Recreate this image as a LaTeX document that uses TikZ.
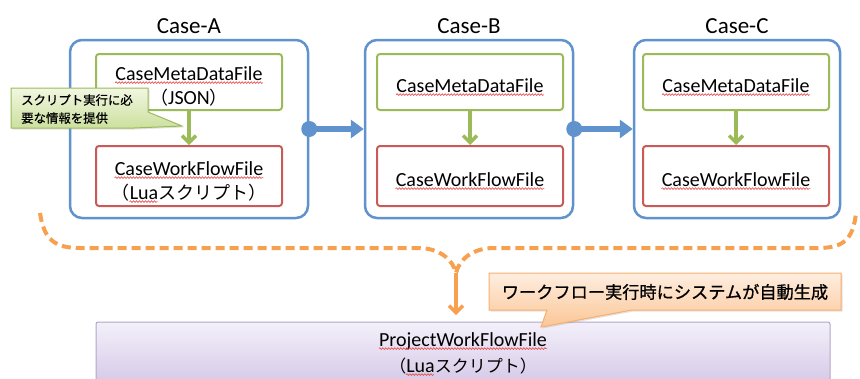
\documentclass[tikz,border=0pt]{standalone}
\usepackage{fontspec}
\setmainfont{Carlito}
\newfontfamily\jp{Noto Sans CJK JP}
\newfontfamily\jpm[FakeBold=0.8]{Noto Sans CJK JP}
\usetikzlibrary{arrows.meta,decorations.pathmorphing,shadows}

\definecolor{caseblue}{RGB}{96,146,206}
\definecolor{metagreen}{RGB}{155,187,89}
\definecolor{flowred}{RGB}{200,90,88}
\definecolor{braceorange}{RGB}{247,160,80}
\definecolor{typored}{RGB}{232,70,70}
\definecolor{projtop}{RGB}{244,240,250}
\definecolor{projbot}{RGB}{214,202,232}
\definecolor{projline}{RGB}{180,165,200}
\definecolor{tiptop}{RGB}{242,247,226}
\definecolor{tipbot}{RGB}{204,224,158}
\definecolor{notetop}{RGB}{254,238,224}
\definecolor{notebot}{RGB}{251,198,150}
\definecolor{noteline}{RGB}{247,175,110}

\newcommand\jpl{\jp\fontsize{18}{20}\selectfont}

\tikzset{
  casebox/.style={draw=caseblue, line width=2.5pt, rounded corners=12pt, fill=white, minimum height=178pt},
  metabox/.style={draw=metagreen, line width=2pt, rounded corners=3pt, fill=white,
    minimum width=186pt, minimum height=56pt},
  flowbox/.style={draw=flowred, line width=2pt, rounded corners=3pt, fill=white,
    minimum width=186pt, minimum height=60pt},
  lbl/.style={font=\fontsize{20}{24}\selectfont, inner sep=0pt, anchor=base},
  casetitle/.style={font=\fontsize{23}{26}\selectfont, anchor=south, inner sep=5pt},
  metaflow/.style={draw=metagreen, line width=3.5pt, -{Straight Barb[length=7pt,width=14pt,line width=3.5pt]}},
  chain/.style={draw=caseblue, line width=5.5pt, -{Triangle[length=13pt,width=18pt]}},
  chaindot/.style={fill=caseblue},
  brace/.style={draw=braceorange, line width=4pt, dash pattern=on 9pt off 5pt},
  genarrow/.style={draw=braceorange, line width=3.5pt, -{Straight Barb[length=7pt,width=14pt,line width=3.5pt]}},
  projbox/.style={draw=projline, line width=1pt, rounded corners=2pt, top color=projtop, bottom color=projbot,
    minimum width=734pt, minimum height=60pt},
  softshadow/.style={drop shadow={opacity=0.22, shadow xshift=1.5pt, shadow yshift=-1.5pt}},
  tipshape/.style={draw=metagreen, line width=1pt, top color=tiptop, bottom color=tipbot, softshadow},
  noteshape/.style={draw=noteline, line width=1pt, top color=notetop, bottom color=notebot, softshadow},
  typo/.style={draw=typored, line width=0.6pt, decorate,
    decoration={snake, amplitude=0.9pt, segment length=3pt}},
}

% red wavy underline below the whole text of a node
\newcommand\squiggle[1]{\draw[typo] ([yshift=-2.6pt]#1.base west) -- ([yshift=-2.6pt]#1.base east);}
% red wavy underline below "Lua" after a leading full-width bracket of width #2
\newcommand\squiggleLua[2]{\draw[typo] ([xshift=#2, yshift=-2.6pt]#1.base west) -- ([xshift=#2+28pt, yshift=-2.6pt]#1.base west);}

\begin{document}
\begin{tikzpicture}[x=1pt, y=-1pt]
\useasboundingbox (0,0) rectangle (860,378);

% generated project workflow file (runs past the lower edge)
\begin{scope}
  \clip (0,0) rectangle (860,378);
  \node[projbox] (proj) at (463,352) {};
\end{scope}
\node[lbl] (projT1) at (463,346) {ProjectWorkFlowFile};
\node[lbl] (projT2) at (463,372) {{\jp\fontsize{17}{20}\selectfont （}Lua{\jp\fontsize{17}{20}\selectfont スクリプト）}};
\squiggle{projT1}
\squiggleLua{projT2}{17pt}

% the three cases
\node[casebox, minimum width=238pt] (caseA) at (189,129) {};
\node[casebox, minimum width=208pt] (caseB) at (469,129) {};
\node[casebox, minimum width=206pt] (caseC) at (737,129) {};

\node[casetitle] (titleA) at (caseA.north) {Case-A};
\node[casetitle] (titleB) at (caseB.north) {Case-B};
\node[casetitle] (titleC) at (caseC.north) {Case-C};

\node[metabox] (metaA) at (189,82) {};
\node[flowbox] (flowA) at (189,176) {};
\node[metabox] (metaB) at (470,82) {};
\node[flowbox] (flowB) at (470,176) {};
\node[metabox] (metaC) at (736,82) {};
\node[flowbox] (flowC) at (736,176) {};

\node[lbl] (metaAT1) at (189,80) {CaseMetaDataFile};
\node[lbl] (metaAT2) at (189,104) {{\jpl （}JSON{\jpl ）}};
\node[lbl] (flowAT1) at (189,175) {CaseWorkFlowFile};
\node[lbl] (flowAT2) at (189,199) {{\jpl （}Lua{\jpl スクリプト）}};
\node[lbl] (metaBT) at (470,92) {CaseMetaDataFile};
\node[lbl] (flowBT) at (470,186) {CaseWorkFlowFile};
\node[lbl] (metaCT) at (736,92) {CaseMetaDataFile};
\node[lbl] (flowCT) at (736,186) {CaseWorkFlowFile};

\squiggle{metaAT1}
\squiggle{flowAT1}
\squiggleLua{flowAT2}{18pt}
\squiggle{metaBT}
\squiggle{flowBT}
\squiggle{metaCT}
\squiggle{flowCT}

\draw[metaflow] (metaA) -- (flowA);
\draw[metaflow] (metaB) -- (flowB);
\draw[metaflow] (metaC) -- (flowC);

% case chaining
\draw[chain] (caseA.east) -- (caseB.west);
\fill[chaindot] (caseA.east) circle (8pt);
\draw[chain] (caseB.east) -- (caseC.west);
\fill[chaindot] (caseB.east) circle (8pt);

% callout on the metadata arrow
\path[tipshape] (11,88) -- (148,88) -- (148,112) -- (182,126) -- (134,128) -- (11,128) -- cycle;
\node[anchor=west, align=left, inner sep=0pt, font=\jpm\fontsize{12.4}{18}\selectfont] (tipA) at (21,109)
  {スクリプト実行に必\\要な情報を提供};

% dashed brace gathering all cases
\coordinate (braceL) at (40,213);
\coordinate (braceR) at (856,213);
\coordinate (braceTip) at (456,273);
\coordinate (genEnd) at (456,315);
\draw[brace] (braceL) .. controls (44,240) and (55,248) .. (80,248) -- (418,248)
  .. controls (440,248) and (453,260) .. (braceTip)
  .. controls (459,260) and (472,248) .. (494,248) -- (818,248)
  .. controls (843,248) and (853,240) .. (braceR);
\draw[genarrow] (braceTip) -- (genEnd);

% note on automatic generation
\path[noteshape] (489,273) -- (841,273) -- (841,310) -- (632,310) -- (541,327) -- (547,310) -- (489,310) -- cycle;
\node[font=\jpm\fontsize{17.2}{20}\selectfont, inner sep=0pt] (note) at (665,292) {ワークフロー実行時にシステムが自動生成};
\end{tikzpicture}
\end{document}
